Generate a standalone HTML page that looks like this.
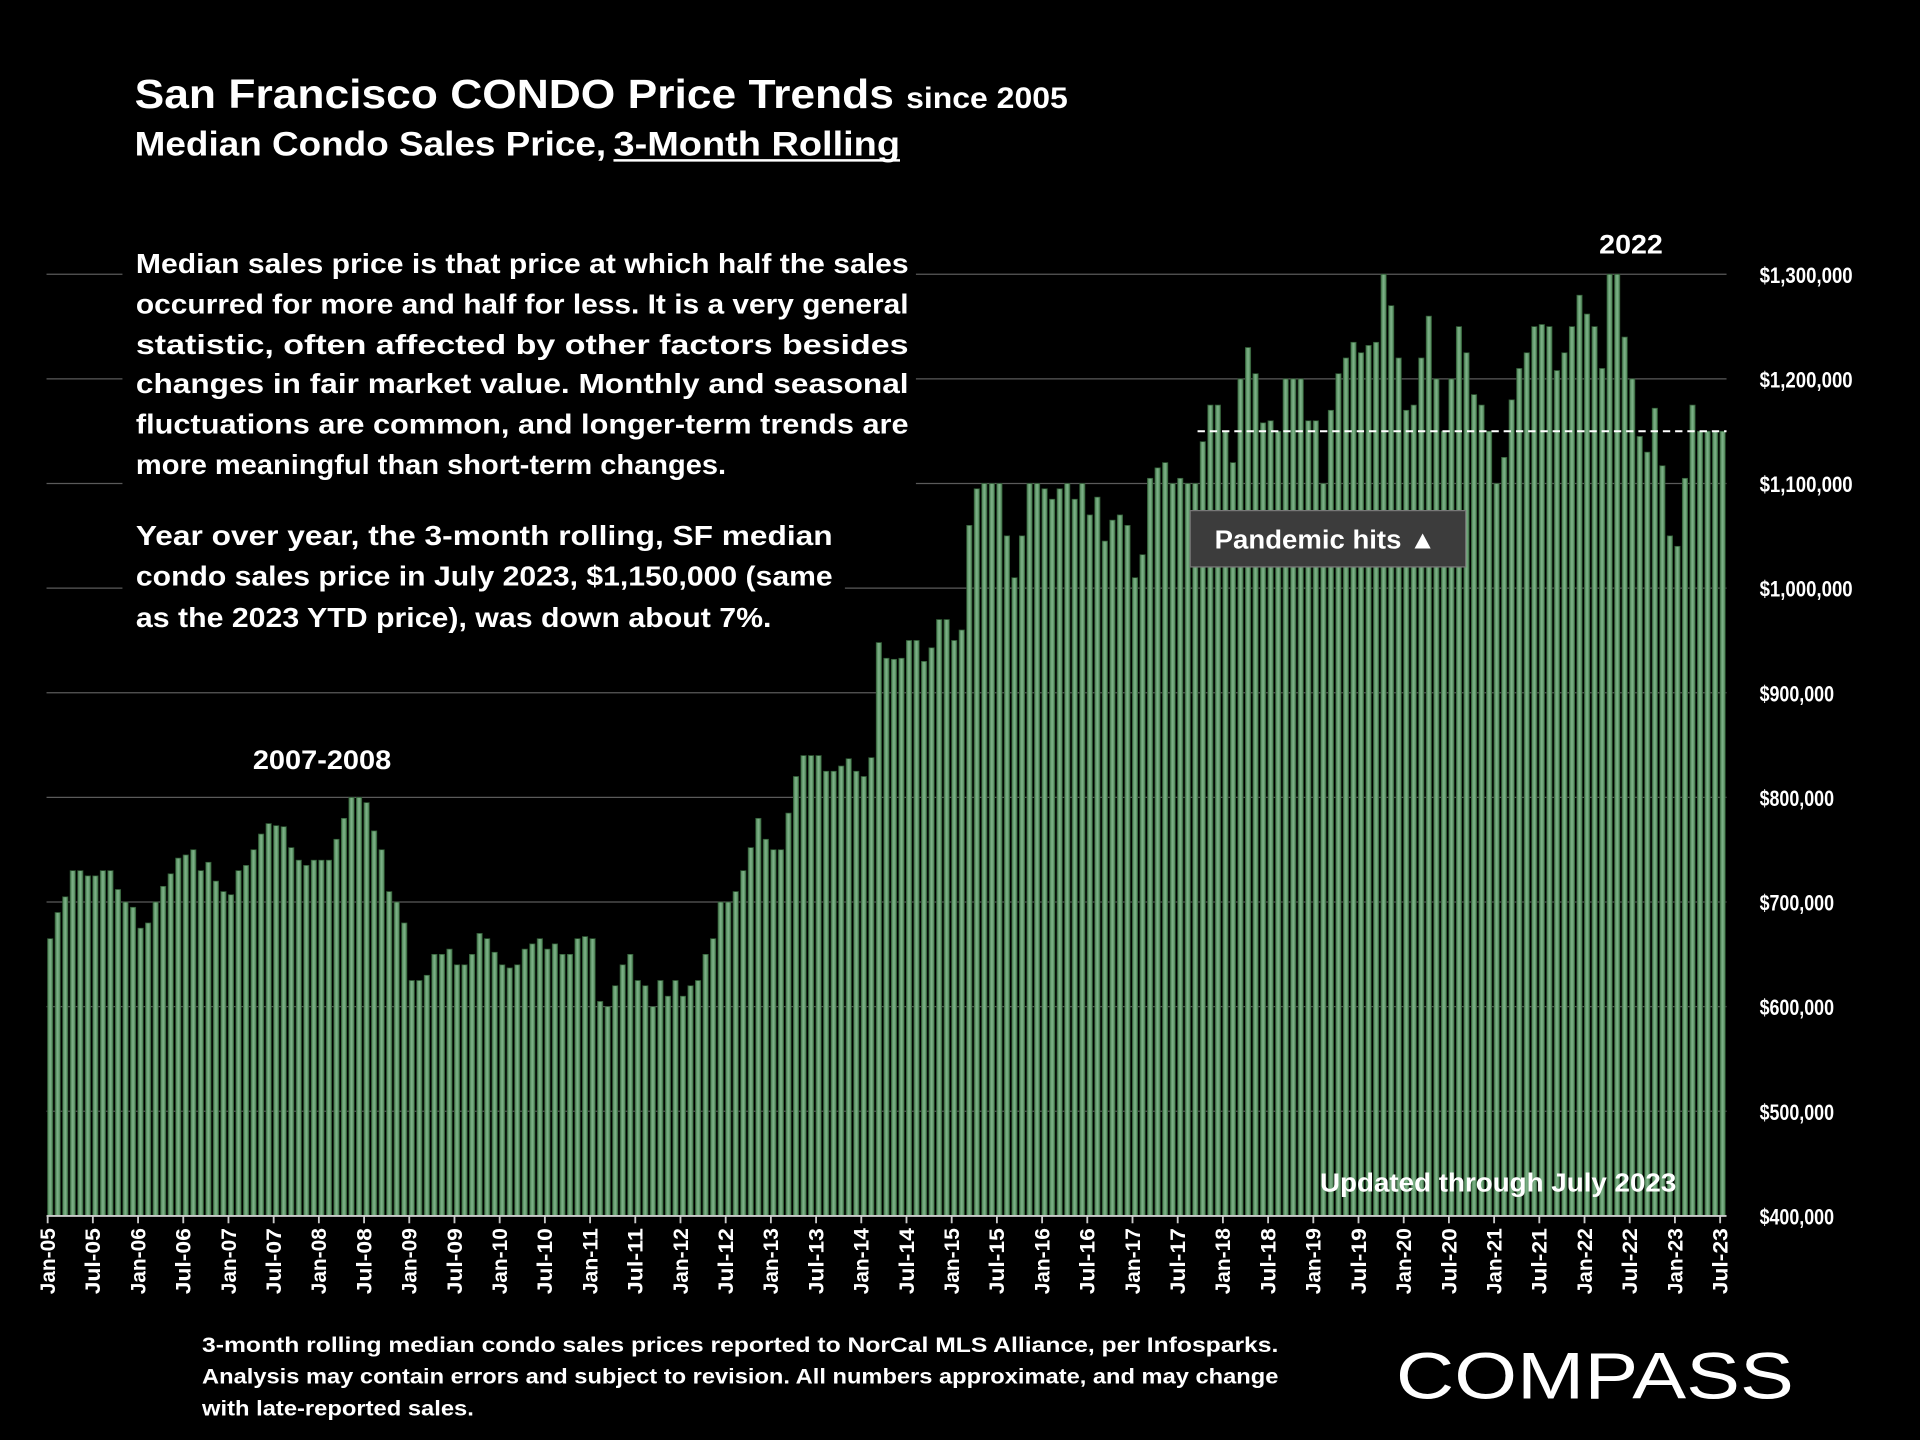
<!DOCTYPE html>
<html><head><meta charset="utf-8"><style>
html,body{margin:0;padding:0;background:#000;}
svg{display:block;}
text{font-family:"Liberation Sans",sans-serif;font-weight:bold;fill:#fff;}
</style></head><body>
<svg id="chart" width="1920" height="1440" viewBox="0 0 1568 1176" xmlns="http://www.w3.org/2000/svg">
<rect width="1568" height="1176" fill="#000"/>
<defs>
<linearGradient id="bg" x1="0" x2="1" y1="0" y2="0">
<stop offset="0" stop-color="#4a8052"/><stop offset="0.5" stop-color="#7fb48a"/><stop offset="1" stop-color="#4a8052"/>
</linearGradient>
</defs>
<g id="grid"></g>
<g id="bars"></g>
<g id="yticks"></g>
<g id="xticks"></g>
<line x1="38" y1="993" x2="1410" y2="993" stroke="#ccc" stroke-width="1.5"/>
<line id="ytdline" x1="978" x2="1410" stroke="#fff" stroke-width="1.6" stroke-dasharray="6,4"/>

<text x="110" y="88" font-size="33" textLength="620" lengthAdjust="spacingAndGlyphs">San Francisco CONDO Price Trends</text>
<text x="740" y="88" font-size="24" textLength="132" lengthAdjust="spacingAndGlyphs">since 2005</text>
<text x="110" y="127" font-size="28" textLength="385" lengthAdjust="spacingAndGlyphs">Median Condo Sales Price,</text>
<text x="501" y="127" font-size="28" textLength="234" lengthAdjust="spacingAndGlyphs">3-Month Rolling</text>
<line x1="501" y1="131" x2="735" y2="131" stroke="#fff" stroke-width="2"/>

<rect x="100" y="196" width="648" height="200" fill="#000"/>
<rect x="100" y="420" width="590" height="100" fill="#000"/>
<g font-size="22.5">
<text x="111" y="223" textLength="631" lengthAdjust="spacingAndGlyphs">Median sales price is that price at which half the sales</text>
<text x="111" y="256" textLength="631" lengthAdjust="spacingAndGlyphs">occurred for more and half for less. It is a very general</text>
<text x="111" y="289" textLength="631" lengthAdjust="spacingAndGlyphs">statistic, often affected by other factors besides</text>
<text x="111" y="321" textLength="631" lengthAdjust="spacingAndGlyphs">changes in fair market value. Monthly and seasonal</text>
<text x="111" y="354" textLength="631" lengthAdjust="spacingAndGlyphs">fluctuations are common, and longer-term trends are</text>
<text x="111" y="387" textLength="482" lengthAdjust="spacingAndGlyphs">more meaningful than short-term changes.</text>
<text x="111" y="445" textLength="569" lengthAdjust="spacingAndGlyphs">Year over year, the 3-month rolling, SF median</text>
<text x="111" y="478" textLength="569" lengthAdjust="spacingAndGlyphs">condo sales price in July 2023, $1,150,000 (same</text>
<text x="111" y="512" textLength="519" lengthAdjust="spacingAndGlyphs">as the 2023 YTD price), was down about 7%.</text>
</g>

<text x="263" y="628" font-size="22" text-anchor="middle" textLength="113" lengthAdjust="spacingAndGlyphs">2007-2008</text>
<text x="1332" y="207" font-size="22" text-anchor="middle" textLength="52" lengthAdjust="spacingAndGlyphs">2022</text>
<g>
<rect x="972" y="417" width="225" height="46" fill="#3c3c3c" stroke="#777" stroke-width="1"/>
<text x="992" y="448" font-size="21" textLength="181" lengthAdjust="spacingAndGlyphs">Pandemic hits ▲</text>
</g>
<text x="1078" y="973" font-size="21" textLength="291" lengthAdjust="spacingAndGlyphs">Updated through July 2023</text>

<g font-size="17.5">
<text x="165" y="1104" textLength="879" lengthAdjust="spacingAndGlyphs">3-month rolling median condo sales prices reported to NorCal MLS Alliance, per Infosparks.</text>
<text x="165" y="1130" textLength="879" lengthAdjust="spacingAndGlyphs">Analysis may contain errors and subject to revision. All numbers approximate, and may change</text>
<text x="165" y="1156" textLength="222" lengthAdjust="spacingAndGlyphs">with late-reported sales.</text>
</g>
<text x="1140" y="1142" font-size="54" style="font-weight:normal" textLength="325" lengthAdjust="spacingAndGlyphs">COMPASS</text>
</svg>
<script>
const months = ["Jan","Feb","Mar","Apr","May","Jun","Jul","Aug","Sep","Oct","Nov","Dec"];
const prices2005 = [665,690,705,730,730,725,725,730,730,712,700,695];
const prices2006 = [675,680,700,715,727,742,745,750,730,738,720,710];
const prices2007 = [707,730,735,750,765,775,773,772,752,740,735,740];
const prices2008 = [740,740,760,780,800,800,795,768,750,710,700,680];
const prices2009 = [625,625,630,650,650,655,640,640,650,670,665,652];
const prices2010 = [640,637,640,655,660,665,655,660,650,650,665,667];
const prices2011 = [665,605,600,620,640,650,625,620,600,625,610,625];
const prices2012 = [610,620,625,650,665,700,700,710,730,752,780,760];
const prices2013 = [750,750,785,820,840,840,840,825,825,830,837,825];
const prices2014 = [820,838,948,933,932,933,950,950,930,943,970,970];
const prices2015 = [950,960,1060,1095,1100,1100,1100,1050,1010,1050,1100,1100];
const prices2016 = [1095,1085,1095,1100,1085,1100,1070,1087,1045,1065,1070,1060];
const prices2017 = [1010,1032,1105,1115,1120,1100,1105,1100,1100,1140,1175,1175];
const prices2018 = [1150,1120,1200,1230,1205,1158,1160,1150,1200,1200,1200,1160];
const prices2019 = [1160,1100,1170,1205,1220,1235,1225,1232,1235,1300,1270,1220];
const prices2020 = [1170,1175,1220,1260,1200,1150,1200,1250,1225,1185,1175,1150];
const prices2021 = [1100,1125,1180,1210,1225,1250,1252,1250,1208,1225,1250,1280];
const prices2022 = [1262,1250,1210,1300,1300,1240,1200,1145,1130,1172,1117,1050];
const prices2023 = [1040,1105,1175,1150,1150,1150,1150];
const yTickValues = [400,500,600,700,800,900,1000,1100,1200,1300];
const ytdPrice = 1150;

const values = [].concat(prices2005,prices2006,prices2007,prices2008,prices2009,prices2010,prices2011,prices2012,prices2013,prices2014,prices2015,prices2016,prices2017,prices2018,prices2019,prices2020,prices2021,prices2022,prices2023);
const categories = values.map((v,i)=>months[i%12]+"-"+String(5+Math.floor(i/12)).padStart(2,"0"));

const NS = "http://www.w3.org/2000/svg";
const X0 = 38, X1 = 1410, Y0 = 993, Y1 = 224, VMIN = 400, VMAX = 1300;
const slot = (X1 - X0) / categories.length;
function xScale(i){ return X0 + i*slot; }
function yScale(v){ return Y0 - (v - VMIN)/(VMAX - VMIN)*(Y0 - Y1); }
function mk(tag, attrs){ const e=document.createElementNS(NS,tag); for(const k in attrs) e.setAttribute(k,attrs[k]); return e; }

const grid = document.getElementById('grid');
const yt = document.getElementById('yticks');
yTickValues.forEach(v=>{
  if(v>VMIN){
    const l = mk('line',{x1:X0,x2:X1,y1:yScale(v),y2:yScale(v),stroke:'#5a5a5a','stroke-width':1});
    
    
    grid.appendChild(l);
  }
  const label = '$' + (v*1000).toLocaleString('en-US');
  const t = mk('text',{x:1437,y:yScale(v)+7,'font-size':18,textLength:label.length*7.6,lengthAdjust:'spacingAndGlyphs'});
  t.textContent = label;
  
  
  yt.appendChild(t);
});

const bars = document.getElementById('bars');
values.forEach((v,i)=>{
  const y = yScale(v);
  const r = mk('rect',{x:xScale(i)+0.8,y:y,width:slot-1.8,height:Y0-y,fill:'url(#bg)',stroke:'#2f5a34','stroke-width':0.6});
  
  
  bars.appendChild(r);
});

const xt = document.getElementById('xticks');
categories.forEach((c,i)=>{
  if(i%6!==0) return;
  const x = xScale(i)+slot*0.15;
  const tk = mk('line',{x1:x,x2:x,y1:Y0,y2:Y0+6,stroke:'#ccc','stroke-width':1.5});
  
  
  xt.appendChild(tk);
  const t = mk('text',{x:x+6,y:Y0+10,'font-size':17,'text-anchor':'end',textLength:c.length*9,lengthAdjust:'spacingAndGlyphs',transform:`rotate(-90 ${x+6} ${Y0+10})`});
  t.textContent = c;
  
  
  xt.appendChild(t);
});

const dl = document.getElementById('ytdline');
dl.setAttribute('y1', yScale(ytdPrice));
dl.setAttribute('y2', yScale(ytdPrice));
</script>
</body></html>
